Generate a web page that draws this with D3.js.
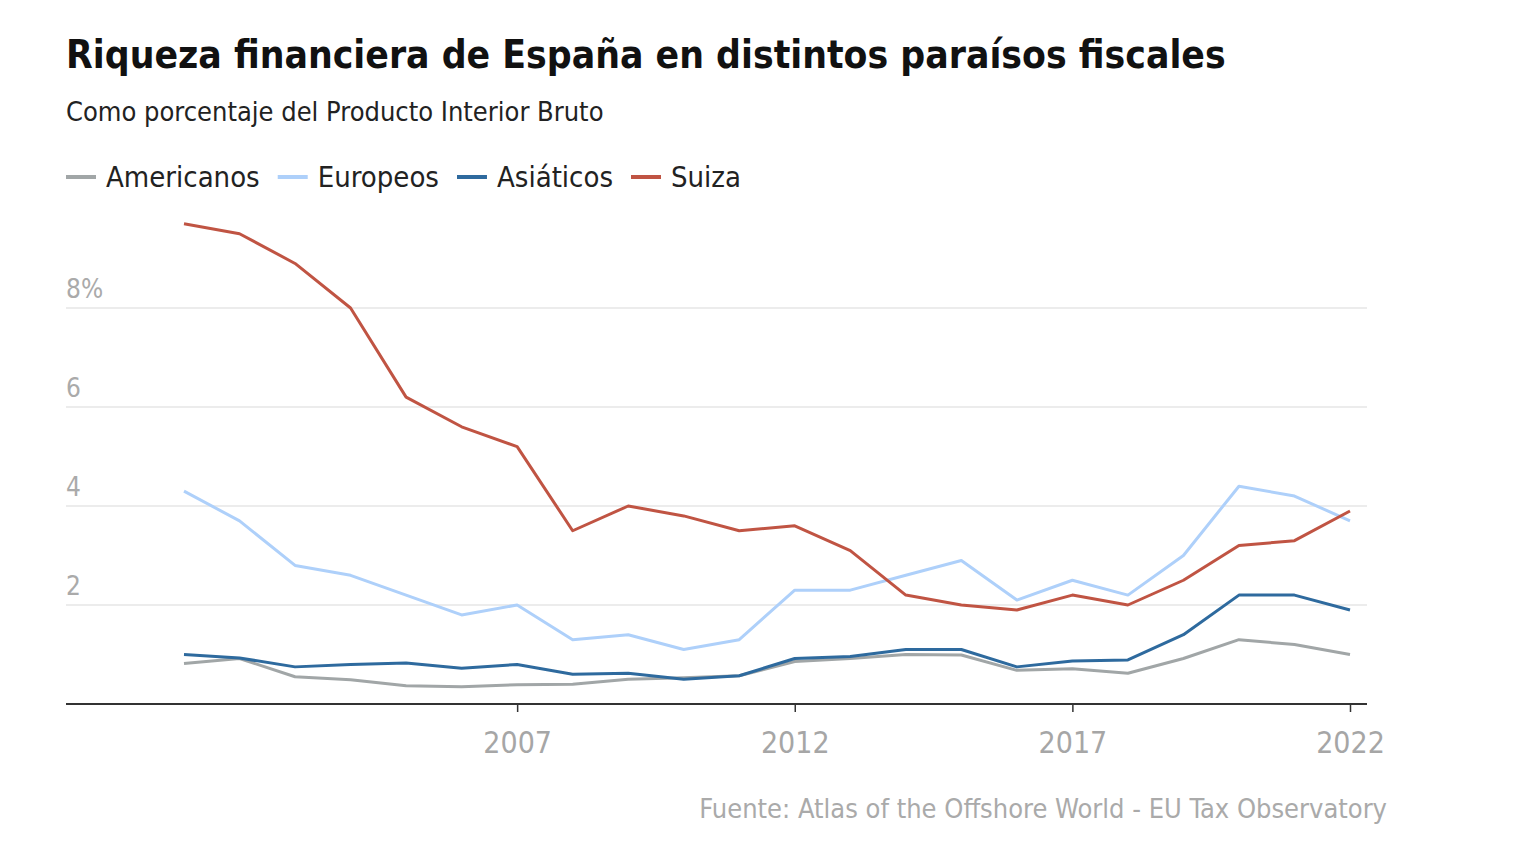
<!DOCTYPE html>
<html>
<head>
<meta charset="utf-8">
<title>Riqueza financiera de España en distintos paraísos fiscales</title>
<script src="https://d3js.org/d3.v7.min.js"></script>
<style>
  body { margin: 0; background: #fff; }
  text { font-family: "Liberation Sans Narrow", "DejaVu Sans Condensed", sans-serif; }
</style>
</head>
<body>
<script>
// Datos (% del PIB)
var years = d3.range(2001, 2023);
var americanos = [0.82, 0.92, 0.55, 0.49, 0.37, 0.35, 0.39, 0.40, 0.50, 0.53, 0.57, 0.86, 0.92, 1.00, 0.99, 0.68, 0.71, 0.62, 0.92, 1.30, 1.20, 1.00];
var europeos   = [4.3, 3.7, 2.8, 2.6, 2.2, 1.8, 2.0, 1.3, 1.4, 1.1, 1.3, 2.3, 2.3, 2.6, 2.9, 2.1, 2.5, 2.2, 3.0, 4.4, 4.2, 3.7];
var asiaticos  = [1.00, 0.93, 0.75, 0.80, 0.83, 0.72, 0.80, 0.60, 0.62, 0.50, 0.57, 0.92, 0.96, 1.10, 1.10, 0.75, 0.87, 0.89, 1.40, 2.20, 2.20, 1.90];
var suiza      = [9.7, 9.5, 8.9, 8.0, 6.2, 5.6, 5.2, 3.5, 4.0, 3.8, 3.5, 3.6, 3.1, 2.2, 2.0, 1.9, 2.2, 2.0, 2.5, 3.2, 3.3, 3.9];
var xTicks = [2007, 2012, 2017, 2022];
var yTicks = [2, 4, 6, 8];

var series = [
  {name: "Americanos", values: americanos, color: "#a1a6a7"},
  {name: "Europeos",   values: europeos,   color: "#aed0fa"},
  {name: "Asiáticos",  values: asiaticos,  color: "#2e6a9e"},
  {name: "Suiza",      values: suiza,      color: "#c05443"}
];

var W = 1534, H = 866;
var left = 66, right = 1367, bottom = 704;

var svg = d3.select("body").append("svg")
    .attr("width", W)
    .attr("height", H);

// Título y subtítulo
svg.append("text")
    .attr("x", left).attr("y", 68)
    .attr("font-size", 38.7).attr("font-weight", "bold")
    .attr("fill", "#111")
    .text("Riqueza financiera de España en distintos paraísos fiscales");

svg.append("text")
    .attr("x", left).attr("y", 121)
    .attr("font-size", 27).attr("fill", "#222")
    .text("Como porcentaje del Producto Interior Bruto");

// Leyenda
var lx = left;
series.forEach(function(s) {
  var g = svg.append("g").attr("transform", "translate(" + lx + ",177)");
  g.append("line").attr("x1", 0).attr("x2", 30).attr("y1", 0).attr("y2", 0)
      .attr("stroke", s.color).attr("stroke-width", 4);
  var t = g.append("text").attr("x", 40).attr("y", 10)
      .attr("font-size", 29).attr("fill", "#222").text(s.name);
  lx += 40 + t.node().getComputedTextLength() + 18;
});

// Escalas
var x = d3.scaleLinear().domain([2001, 2022]).range([184, 1350]);
var y = d3.scaleLinear().domain([0, 10]).range([bottom, bottom - 495]);

// Cuadrícula
svg.append("g").selectAll("line")
    .data(yTicks).enter().append("line")
    .attr("x1", left).attr("x2", right)
    .attr("y1", function(d) { return y(d); })
    .attr("y2", function(d) { return y(d); })
    .attr("stroke", "#e6e6e6").attr("stroke-width", 1.5);

svg.append("g").selectAll("text")
    .data(yTicks).enter().append("text")
    .attr("x", left)
    .attr("y", function(d) { return y(d) - 10; })
    .attr("font-size", 26).attr("fill", "#aaa")
    .text(function(d) { return d === 8 ? d + "%" : d; });

// Eje X
var xAxis = svg.append("g")
    .attr("transform", "translate(0," + bottom + ")")
    .call(d3.axisBottom(x).tickValues(xTicks).tickFormat(d3.format("d")).tickSize(8).tickSizeOuter(0).tickPadding(20));
xAxis.select(".domain").remove();
xAxis.append("line").attr("x1", left).attr("x2", right)
    .attr("stroke", "#333").attr("stroke-width", 2);
xAxis.selectAll(".tick line").attr("stroke", "#333").attr("stroke-width", 1.5);
xAxis.selectAll(".tick text")
    .attr("font-size", 30).attr("fill", "#a6a6a6")
    .attr("font-family", "Liberation Sans Narrow, DejaVu Sans Condensed, sans-serif");

// Líneas
var line = d3.line()
    .x(function(d, i) { return x(years[i]); })
    .y(function(d) { return y(d); });

svg.append("g").selectAll("path")
    .data(series).enter().append("path")
    .attr("d", function(s) { return line(s.values); })
    .attr("fill", "none")
    .attr("stroke", function(s) { return s.color; })
    .attr("stroke-width", 3)
    .attr("stroke-linejoin", "round");

// Fuente
svg.append("text")
    .attr("x", 1387).attr("y", 818)
    .attr("text-anchor", "end")
    .attr("font-size", 27).attr("fill", "#aaa")
    .text("Fuente: Atlas of the Offshore World - EU Tax Observatory");
</script>
</body>
</html>
